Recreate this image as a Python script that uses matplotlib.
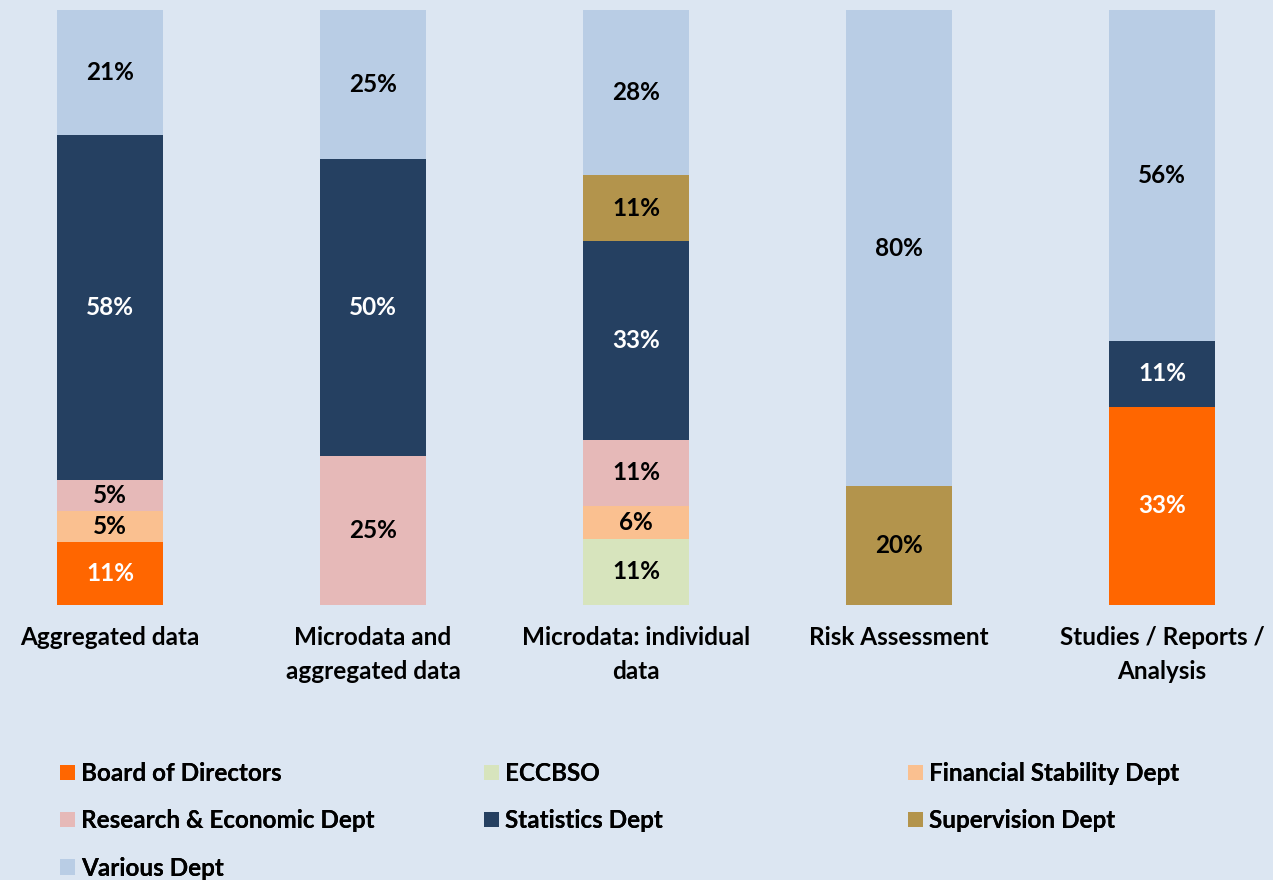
import matplotlib.pyplot as plt
from matplotlib.patches import Patch

plt.rcParams['font.family'] = ['Lato', 'DejaVu Sans']
plt.rcParams['font.weight'] = 'bold'

categories = ["Aggregated data", "Microdata and\naggregated data", "Microdata: individual\ndata",
              "Risk Assessment", "Studies / Reports /\nAnalysis"]

depts = ["Board of Directors", "ECCBSO", "Financial Stability Dept", "Research & Economic Dept",
         "Statistics Dept", "Supervision Dept", "Various Dept"]

board = [10.53, 0, 0, 0, 33.33]
eccbso = [0, 0, 11.11, 0, 0]
finstab = [5.26, 0, 5.56, 0, 0]
research = [5.26, 25, 11.11, 0, 0]
statistics = [57.89, 50, 33.33, 0, 11.11]
supervision = [0, 0, 11.11, 20, 0]
various = [21.05, 25, 27.78, 80, 55.56]

series = [board, eccbso, finstab, research, statistics, supervision, various]
colors = ["#ff6600", "#d7e4bd", "#fac090", "#e6b9b8", "#254061", "#b3944c", "#b9cde5"]
text_colors = ["white", "black", "black", "black", "white", "black", "black"]

fs = 17.5
bg = "#dce6f2"
fig = plt.figure(figsize=(12.73, 8.8), dpi=100, facecolor=bg)
ax = fig.add_axes([0, 1 - 605 / 880, 1, 595 / 880])
ax.set_facecolor(bg)

x = list(range(len(categories)))
bottom = [0] * len(categories)
for vals, c, tc in zip(series, colors, text_colors):
    ax.bar(x, vals, width=0.4, bottom=bottom, color=c)
    for i, v in enumerate(vals):
        if v > 0:
            ax.text(i, bottom[i] + v / 2, f"{round(v)}%", ha='center', va='center',
                    color=tc, fontsize=fs, fontweight='bold')
    bottom = [b + v for b, v in zip(bottom, vals)]

ax.set_xlim(-110 / 263, 4 + 111 / 263)
ax.set_ylim(0, 100)
ax.axis('off')

for i, cat in enumerate(categories):
    ax.text(i, -3.6, cat, ha='center', va='top', fontsize=fs, fontweight='bold',
            linespacing=1.55)

handles = [Patch(facecolor=c, label=d) for c, d in zip(colors, depts)]
cols = [[0, 3, 6], [1, 4], [2, 5]]
xs = [60, 484, 908]
for col, xp in zip(cols, xs):
    leg = fig.legend(handles=[handles[k] for k in col], loc='upper left',
                     bbox_to_anchor=(xp / 1273, 1 - 762 / 880), frameon=False,
                     borderpad=0, borderaxespad=0, handlelength=0.6, handleheight=0.6,
                     handletextpad=0.25, labelspacing=1.0,
                     prop={'size': fs, 'weight': 'bold', 'family': ['Lato', 'DejaVu Sans']})
    fig.add_artist(leg)

fig.savefig("out.png", dpi=100, facecolor=bg)
